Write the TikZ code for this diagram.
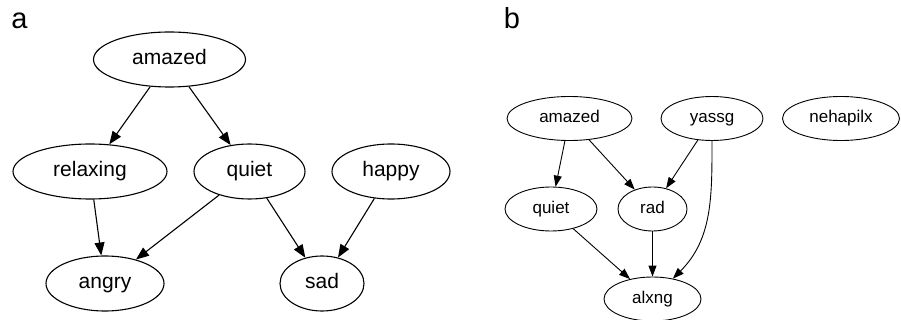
\documentclass[tikz,border=0pt]{standalone}
\usepackage{fontspec}
\setmainfont{Liberation Sans}
\usetikzlibrary{arrows.meta,shapes.geometric}

\begin{document}
\begin{tikzpicture}[x=1pt, y=-1pt,
  ell/.style={draw, ellipse, inner sep=0pt},
  big/.style={ell, font=\fontsize{21}{21}\selectfont, minimum height=55pt, line width=1.1pt, text height=15pt, text depth=4.4pt},
  small/.style={ell, font=\fontsize{17}{17}\selectfont, minimum height=44pt, line width=0.9pt, text height=12.2pt, text depth=3.6pt},
  arrA/.style={-{Triangle[length=13pt,width=10pt]}, line width=1.1pt},
  arrB/.style={-{Triangle[length=11pt,width=8pt]}, line width=0.9pt},
  panel/.style={font=\fontsize{29}{29}\selectfont, inner sep=0pt}]
  \useasboundingbox (0,0) rectangle (901,320);

  % panel a
  \node[panel] (labA) at (19.5,21) {a};
  \node[big, minimum width=152pt] (amazedA) at (169.5,59.5) {amazed};
  \node[big, minimum width=154pt] (relaxing) at (90,171.5) {relaxing};
  \node[big, minimum width=111pt] (quietA) at (249.5,171.5) {quiet};
  \node[big, minimum width=118pt] (happy) at (391,171.5) {happy};
  \node[big, minimum width=118pt] (angry) at (105,283.5) {angry};
  \node[big, minimum width=84pt] (sad) at (322,283.5) {sad};
  \draw[arrA] (amazedA) -- (relaxing);
  \draw[arrA] (amazedA) -- (quietA);
  \draw[arrA] (relaxing) -- (angry);
  \draw[arrA] (quietA) -- (angry);
  \draw[arrA] (quietA) -- (sad);
  \draw[arrA] (happy) -- (sad);

  % panel b
  \node[panel] (labB) at (512,18) {b};
  \node[small, minimum width=125pt] (amazedB) at (569.5,118.5) {amazed};
  \node[small, minimum width=102pt] (yassg) at (712,118.5) {yassg};
  \node[small, minimum width=117pt] (nehapilx) at (841,118.5) {nehapilx};
  \node[small, minimum width=92pt] (quietB) at (551,209) {quiet};
  \node[small, minimum width=69pt] (rad) at (652.5,209) {rad};
  \node[small, minimum width=97pt] (alxng) at (652.5,299) {alxng};
  \draw[arrB] (amazedB) -- (quietB);
  \draw[arrB] (amazedB) -- (rad);
  \draw[arrB] (yassg) -- (rad);
  \draw[arrB] (yassg) to[out=-90, in=45] (alxng);
  \draw[arrB] (quietB) -- (alxng);
  \draw[arrB] (rad) -- (alxng);
\end{tikzpicture}
\end{document}
